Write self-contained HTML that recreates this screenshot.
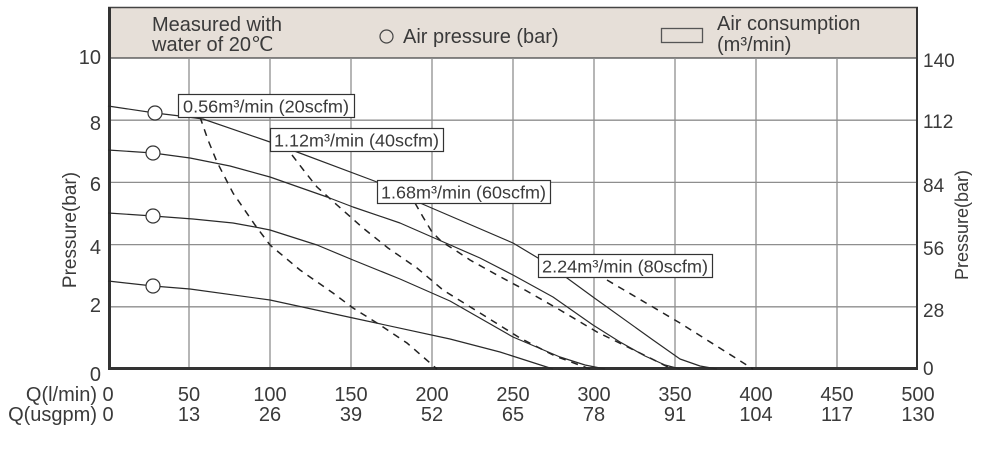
<!DOCTYPE html>
<html><head><meta charset="utf-8"><style>
html,body{margin:0;padding:0;background:#fff;}
svg{display:block;}
text{font-family:"Liberation Sans",Arial,sans-serif;fill:#3a3a3a;}
</style></head><body>
<svg width="1007" height="453" viewBox="0 0 1007 453" xmlns="http://www.w3.org/2000/svg">
<!-- header band -->
<rect x="108" y="7" width="810" height="51" fill="#e6dfd8"/>
<line x1="108" y1="7.5" x2="918" y2="7.5" stroke="#444" stroke-width="1.5"/>
<line x1="108" y1="58" x2="918" y2="58" stroke="#444" stroke-width="1.2"/>
<!-- grid -->
<g stroke="#8e8e8e" stroke-width="1.3">
<line x1="189" y1="58" x2="189" y2="369"/>
<line x1="270" y1="58" x2="270" y2="369"/>
<line x1="351" y1="58" x2="351" y2="369"/>
<line x1="432" y1="58" x2="432" y2="369"/>
<line x1="513" y1="58" x2="513" y2="369"/>
<line x1="594" y1="58" x2="594" y2="369"/>
<line x1="675" y1="58" x2="675" y2="369"/>
<line x1="756" y1="58" x2="756" y2="369"/>
<line x1="837" y1="58" x2="837" y2="369"/>
<line x1="108" y1="120.2" x2="918" y2="120.2"/>
<line x1="108" y1="182.4" x2="918" y2="182.4"/>
<line x1="108" y1="244.6" x2="918" y2="244.6"/>
<line x1="108" y1="306.8" x2="918" y2="306.8"/>
</g>
<!-- axes -->
<line x1="109.5" y1="7" x2="109.5" y2="370" stroke="#333" stroke-width="3"/>
<line x1="917" y1="7" x2="917" y2="370" stroke="#333" stroke-width="2"/>
<line x1="108" y1="368.5" x2="918" y2="368.5" stroke="#333" stroke-width="3"/>

<!-- header text -->
<text x="152" y="31" font-size="20">Measured with</text>
<text x="152" y="51" font-size="20">water of 20℃</text>
<circle cx="386.5" cy="36.5" r="6.5" fill="none" stroke="#444" stroke-width="1.2"/>
<text x="403" y="43" font-size="20">Air pressure (bar)</text>
<rect x="661.5" y="28.5" width="41" height="14" fill="#e6dfd8" stroke="#555" stroke-width="1.3"/>
<text x="717" y="30" font-size="20">Air consumption</text>
<text x="717" y="51" font-size="20">(m³/min)</text>

<!-- dashed air consumption lines -->
<g fill="none" stroke="#222" stroke-width="1.5" stroke-dasharray="7,6">
<polyline points="200,117 208,140 217,162 233,193 255,225 270,245 300,270 333,293 353,308 377,323 407,343 437,369"/>
<polyline points="292,155 305,172 317,187 337,205 363,228 388,248 417,268 443,290 480,313 520,338 555,356 590,369"/>
<polyline points="415,203 423,217 432,232 442,242 455,250 470,260 497,275 525,290 560,310 597,332 640,353 672,369"/>
<polyline points="607,280 680,323 753,369"/>
</g>
<!-- solid air pressure curves -->
<g fill="none" stroke="#2a2a2a" stroke-width="1.2" stroke-linejoin="round">
<polyline points="108,106 155,113 180,116 203,119 270,142 297,152 377,182 420,203 513,243 538,258 567,278 593,297 653,340 680,359 700,366 717,369"/>
<polyline points="108,150 153,153 190,158 230,166 270,177 327,197 353,207 400,223 432,237 480,258 513,275 553,297 593,325 620,342 645,356 665,365 680,369"/>
<polyline points="108,213 153,216 193,219 233,223 255,227 270,230 317,245 353,260 400,279 450,301 513,337 560,357 585,365 605,369"/>
<polyline points="108,281 153,286 190,289 270,300 353,318 450,339 500,352 553,369"/>
</g>
<!-- circles -->
<g fill="#fff" stroke="#333" stroke-width="1.2">
<circle cx="155" cy="113" r="7"/>
<circle cx="153" cy="153" r="7"/>
<circle cx="153" cy="216" r="7"/>
<circle cx="153" cy="286" r="7"/>
</g>
<!-- label boxes -->
<g fill="#fff" stroke="#333" stroke-width="1.2">
<rect x="178.5" y="94.5" width="176" height="23"/>
<rect x="270.5" y="128.5" width="173" height="23"/>
<rect x="377.5" y="180.5" width="173" height="23"/>
<rect x="538.5" y="254.5" width="174" height="23"/>
</g>
<g font-size="17.5">
<text x="183" y="112.5" textLength="166" lengthAdjust="spacingAndGlyphs">0.56m³/min (20scfm)</text>
<text x="274" y="146.5" textLength="165" lengthAdjust="spacingAndGlyphs">1.12m³/min (40scfm)</text>
<text x="381" y="198.5" textLength="165" lengthAdjust="spacingAndGlyphs">1.68m³/min (60scfm)</text>
<text x="542" y="272.5" textLength="166" lengthAdjust="spacingAndGlyphs">2.24m³/min (80scfm)</text>
</g>

<!-- left axis labels -->
<g font-size="20" text-anchor="end">
<text x="101" y="64">10</text>
<text x="101" y="130">8</text>
<text x="101" y="191">6</text>
<text x="101" y="254">4</text>
<text x="101" y="312">2</text>
<text x="101" y="381">0</text>
</g>
<text font-size="19" text-anchor="middle" transform="translate(76,230) rotate(-90)">Pressure(bar)</text>
<!-- right axis labels -->
<g font-size="19">
<text x="923" y="67">140</text>
<text x="923" y="128">112</text>
<text x="923" y="192">84</text>
<text x="923" y="255">56</text>
<text x="923" y="317">28</text>
<text x="923" y="375">0</text>
</g>
<text font-size="18" text-anchor="middle" transform="translate(968,225) rotate(-90)">Pressure(bar)</text>

<!-- bottom labels -->
<g font-size="20">
<text x="97" y="401" text-anchor="end">Q(l/min)</text>
<text x="97" y="421" text-anchor="end">Q(usgpm)</text>
</g>
<g font-size="20" text-anchor="middle">
<text x="108" y="401">0</text>
<text x="189" y="401">50</text>
<text x="270" y="401">100</text>
<text x="351" y="401">150</text>
<text x="432" y="401">200</text>
<text x="513" y="401">250</text>
<text x="594" y="401">300</text>
<text x="675" y="401">350</text>
<text x="756" y="401">400</text>
<text x="837" y="401">450</text>
<text x="918" y="401">500</text>
<text x="108" y="421">0</text>
<text x="189" y="421">13</text>
<text x="270" y="421">26</text>
<text x="351" y="421">39</text>
<text x="432" y="421">52</text>
<text x="513" y="421">65</text>
<text x="594" y="421">78</text>
<text x="675" y="421">91</text>
<text x="756" y="421">104</text>
<text x="837" y="421">117</text>
<text x="918" y="421">130</text>
</g>
</svg>
</body></html>
